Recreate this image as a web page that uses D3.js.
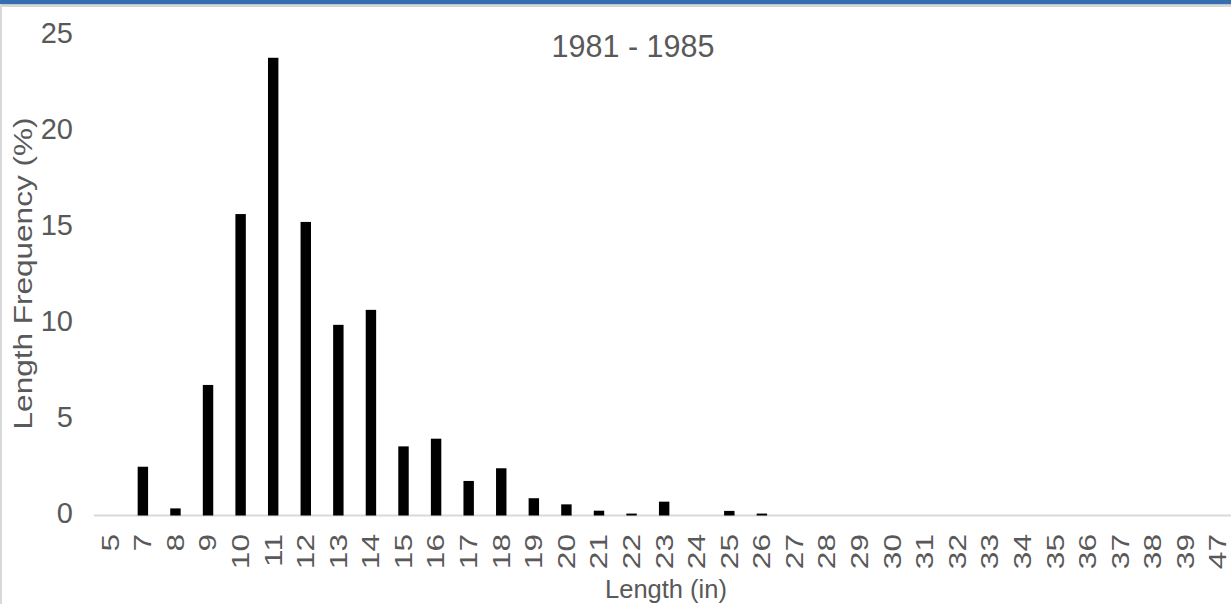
<!DOCTYPE html>
<html>
<head>
<meta charset="utf-8">
<script src="https://cdn.jsdelivr.net/npm/d3@7"></script>
<style>
  html, body { margin: 0; padding: 0; background: #fff; }
  svg { display: block; }
  text { font-family: "Liberation Sans", Arial, sans-serif; fill: #595959; }
</style>
</head>
<body>
<svg id="chart" width="1231" height="604"></svg>
<script>
// ---- Data ----
const chartTitle = "1981 - 1985";
const xTitle = "Length (in)";
const yTitle = "Length Frequency (%)";
const categories = ["5","7","8","9","10","11","12","13","14","15","16","17","18","19","20",
  "21","22","23","24","25","26","27","28","29","30","31","32","33","34","35","36","37","38","39","47"];
const frequency = [0, 2.54, 0.37, 6.8, 15.7, 23.84, 15.29, 9.93, 10.71, 3.6, 4.0, 1.8, 2.46, 0.9, 0.58,
  0.25, 0.1, 0.72, 0, 0.24, 0.1, 0, 0, 0, 0, 0, 0, 0, 0, 0, 0, 0, 0, 0, 0];
const yTicks = [0, 5, 10, 15, 20, 25];

// ---- Layout ----
const W = 1231, H = 604;
const svg = d3.select("#chart");

// frame decorations
svg.append("rect").attr("x", 0).attr("y", 0).attr("width", W).attr("height", 4.5).attr("fill", "#356db0");
svg.append("rect").attr("x", 0).attr("y", 4.5).attr("width", W).attr("height", 2.5).attr("fill", "#d6d6d6");
svg.append("rect").attr("x", 0).attr("y", 4.5).attr("width", 2).attr("height", H).attr("fill", "#d9d9d9");

const x = d3.scaleBand()
  .domain(categories)
  .range([94, 94 + 35 * 32.58])
  .paddingInner(0.68)
  .paddingOuter(0.34);

const y = d3.scaleLinear().domain([0, 25]).range([515.5, 35.5]);

// axis line
svg.append("line")
  .attr("x1", 94).attr("x2", W)
  .attr("y1", y(0)).attr("y2", y(0))
  .attr("stroke", "#d9d9d9").attr("stroke-width", 2.2);

// bars
svg.append("g").selectAll("rect")
  .data(categories.map((c, i) => ({ c, v: frequency[i] })))
  .join("rect")
  .attr("x", d => x(d.c))
  .attr("width", x.bandwidth())
  .attr("y", d => y(d.v))
  .attr("height", d => y(0) - y(d.v))
  .attr("fill", "#000");

// y tick labels
svg.append("g").selectAll("text")
  .data(yTicks)
  .join("text")
  .attr("x", 73)
  .attr("y", d => y(d) - 3)
  .attr("dy", "0.36em")
  .attr("text-anchor", "end")
  .attr("font-size", 29)
  .text(d => d);

// x tick labels (rotated)
svg.append("g").selectAll("text")
  .data(categories)
  .join("text")
  .attr("transform", d => `translate(${x(d) + x.bandwidth() / 2},534) rotate(-90) scale(1.32,1)`)
  .attr("text-anchor", "end")
  .attr("dy", "0.35em")
  .attr("font-size", 24)
  .text(d => d);

// chart title
svg.append("text")
  .attr("x", 633).attr("y", 57)
  .attr("text-anchor", "middle")
  .attr("font-size", 30.5)
  .text(chartTitle);

// x axis title
svg.append("text")
  .attr("x", 666).attr("y", 598)
  .attr("text-anchor", "middle")
  .attr("font-size", 25.5)
  .text(xTitle);

// y axis title
svg.append("text")
  .attr("transform", "translate(31.7,273.5) rotate(-90) scale(1.19,1)")
  .attr("text-anchor", "middle")
  .attr("font-size", 26.5)
  .text(yTitle);
</script>
</body>
</html>
